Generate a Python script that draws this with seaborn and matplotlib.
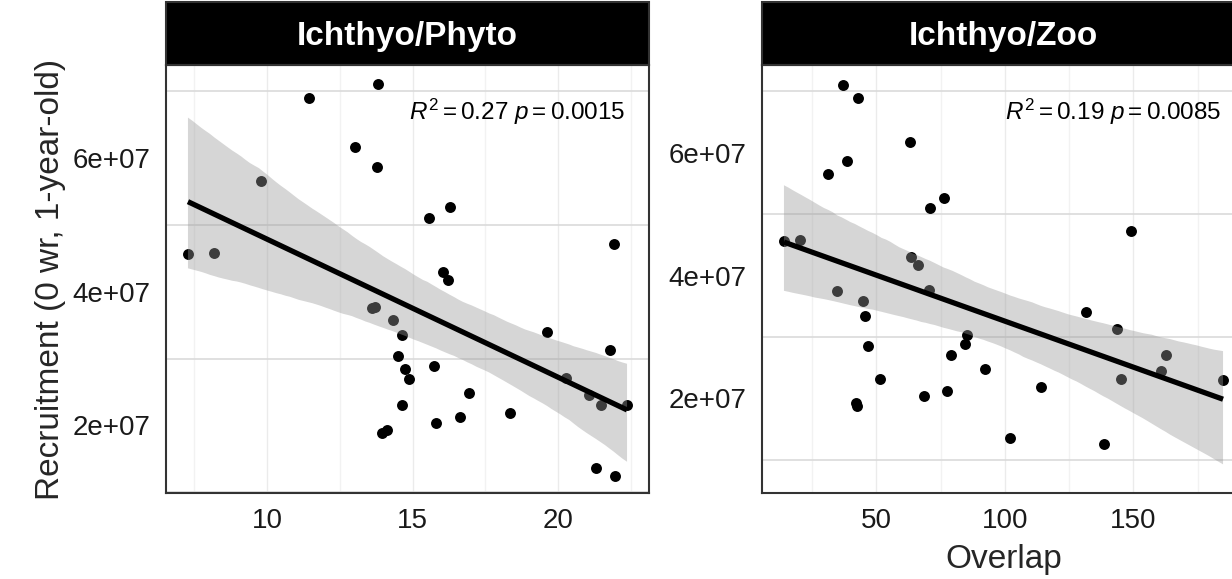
import numpy as np
import pandas as pd
import matplotlib
matplotlib.use('Agg')
import matplotlib.pyplot as plt
import seaborn as sns
from matplotlib.ticker import MultipleLocator, FuncFormatter
from matplotlib.patches import Rectangle

# ==========================================
# 1. DATA
# ==========================================
recruitment = [7.11e7, 6.90e7, 6.17e7, 5.86e7, 5.66e7, 5.27e7, 5.10e7, 4.72e7, 4.58e7,
               4.57e7, 4.30e7, 4.18e7, 3.77e7, 3.75e7, 3.58e7, 3.40e7, 3.35e7, 3.13e7,
               3.04e7, 2.89e7, 2.85e7, 2.71e7, 2.70e7, 2.48e7, 2.45e7, 2.31e7, 2.31e7,
               2.30e7, 2.19e7, 2.12e7, 2.04e7, 1.93e7, 1.88e7, 1.36e7, 1.25e7]
overlap_phyto = [13.80, 11.44, 13.01, 13.77, 9.79, 16.30, 15.58, 21.92, 8.18,
                 7.29, 16.03, 16.23, 13.70, 13.60, 14.32, 19.62, 14.62, 21.78,
                 14.49, 15.72, 14.73, 20.27, 14.86, 16.95, 21.06, 14.62, 21.47,
                 22.36, 18.36, 16.61, 15.82, 14.11, 13.94, 21.30, 21.95]
overlap_zoo = [36.8, 43.0, 63.2, 38.4, 31.0, 76.4, 70.9, 149.2, 20.2,
               14.0, 63.6, 66.3, 70.5, 34.5, 44.6, 131.4, 45.7, 143.8,
               85.3, 84.5, 46.9, 162.8, 79.1, 92.2, 160.9, 51.2, 145.0,
               184.9, 113.9, 77.5, 68.6, 41.9, 42.6, 101.9, 138.4]

panel_titles = ['Ichthyo/Phyto', 'Ichthyo/Zoo']
stat_labels = [r'$R^2 = 0.27\ p = 0.0015$', r'$R^2 = 0.19\ p = 0.0085$']
x_major_step = [5, 50]
x_minor_step = [2.5, 25]
# axis ranges as shown in the picture (free y scales per panel)
y_ranges = [(0.99e7, 7.39e7), (0.46e7, 7.43e7)]

# ==========================================
# 2. STYLE
# ==========================================
sns.set_style('white')
plt.rcParams['font.family'] = ['Liberation Sans', 'DejaVu Sans']
plt.rcParams['mathtext.fontset'] = 'custom'
plt.rcParams['mathtext.rm'] = 'Liberation Sans'
plt.rcParams['mathtext.it'] = 'Liberation Sans:italic'

W, H = 1232, 579
fig = plt.figure(figsize=(W / 100, H / 100), dpi=100)
fig.patch.set_facecolor('white')

panel_left = [166, 762]
panel_w, panel_top, panel_bottom = 483, 65, 493
strip_h = 63

# ==========================================
# 3. PANELS
# ==========================================
for i, xs in enumerate([overlap_phyto, overlap_zoo]):
    df = pd.DataFrame({'overlap': xs, 'recruitment': recruitment})
    ax = fig.add_axes([panel_left[i] / W, (H - panel_bottom) / H,
                       panel_w / W, (panel_bottom - panel_top) / H])

    sns.scatterplot(data=df, x='overlap', y='recruitment', ax=ax, color='black',
                    s=62, linewidth=0, zorder=2)
    sns.regplot(data=df, x='overlap', y='recruitment', ax=ax, scatter=False,
                color='black', seed=0, n_boot=2000,
                line_kws=dict(lw=3.8, zorder=4, solid_capstyle='butt'))

    # ribbon like ggplot: grey60 with alpha 0.4 over the points
    band = ax.collections[-1]
    band.set_facecolor('#999999')
    band.set_alpha(0.4)
    band.set_edgecolor('none')
    band.set_zorder(3)

    xlo, xhi = df['overlap'].min(), df['overlap'].max()
    ax.set_xlim(xlo - 0.05 * (xhi - xlo), xhi + 0.05 * (xhi - xlo))
    ax.set_ylim(*y_ranges[i])

    ax.xaxis.set_major_locator(MultipleLocator(x_major_step[i]))
    ax.xaxis.set_minor_locator(MultipleLocator(x_minor_step[i]))
    ax.yaxis.set_major_locator(MultipleLocator(2e7))
    ax.yaxis.set_minor_locator(MultipleLocator(1e7))
    ax.yaxis.set_major_formatter(FuncFormatter(lambda v, p: f'{v:.0e}'))

    ax.set_axisbelow(True)
    ax.grid(True, which='major', axis='x', color='#ebebeb', lw=1.0)
    ax.grid(True, which='minor', axis='x', color='#f2f2f2', lw=1.0)
    ax.grid(True, which='minor', axis='y', color='#dadada', lw=1.2)

    ax.tick_params(which='major', length=6, width=1.3, color='#333333',
                   labelsize=20, labelcolor='#1a1a1a', pad=5)
    ax.tick_params(which='minor', length=0)
    for sp in ax.spines.values():
        sp.set_color('#333333')
        sp.set_linewidth(1.5)

    ax.set_xlabel('Overlap' if i == 1 else '', fontsize=24, labelpad=7)
    ax.set_ylabel('Recruitment (0 wr, 1-year-old)' if i == 0 else '',
                  fontsize=24, labelpad=5)

    # facet strip
    sh = strip_h / (panel_bottom - panel_top)
    ax.add_patch(Rectangle((0, 1), 1, sh, transform=ax.transAxes, facecolor='black',
                           edgecolor='#333333', lw=1.5, clip_on=False))
    ax.text(0.5, (panel_bottom - 45) / (panel_bottom - panel_top), panel_titles[i],
            transform=ax.transAxes, ha='center', va='baseline', color='white',
            fontsize=24, fontweight='bold')

    ax.text(1 - 24 / panel_w, (panel_bottom - 120) / (panel_bottom - panel_top),
            stat_labels[i], transform=ax.transAxes, ha='right', va='baseline',
            fontsize=17.5, color='black')

plt.savefig('out.png', dpi=100)
